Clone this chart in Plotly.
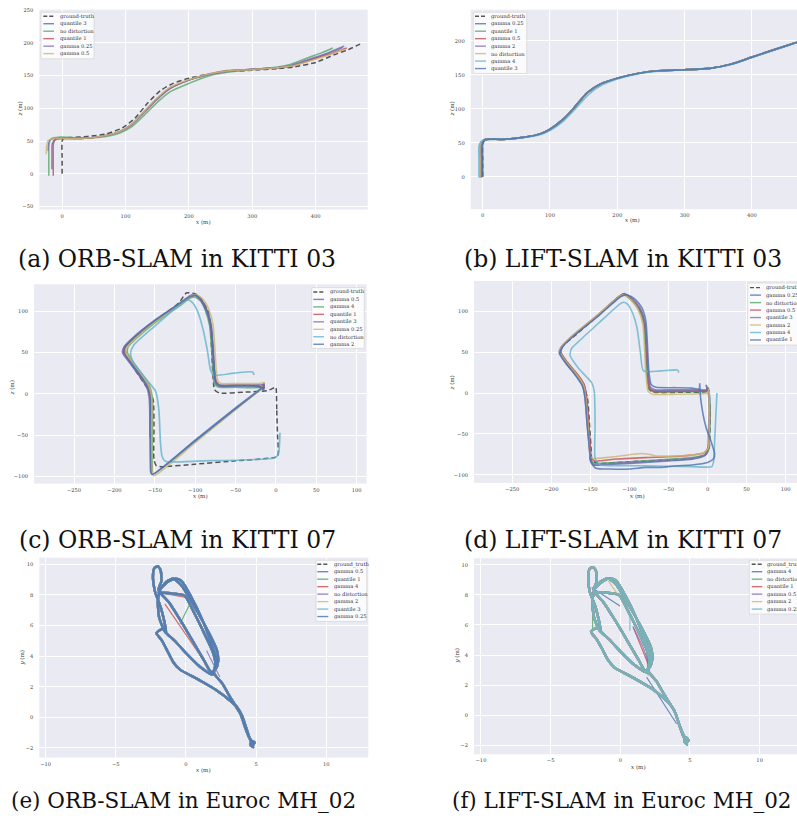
import plotly.graph_objects as go

W, H = 797, 821
BG = "#EAEAF2"
DEEP = ["#4C72B0", "#55A868", "#C44E52", "#8172B2", "#CCB974", "#64B5CD"]
GT_COLOR = "rgba(55,55,55,0.85)"
SERIF = "DejaVu Serif"

# ---------------- (a) ORB-SLAM, KITTI 03  (x, z) ----------------
A_GT = [(0, 0), (0, 25), (0, 50), (3, 54.5), (15, 55.5), (40, 57), (70, 61), (95, 70), (115, 85),
        (135, 108), (155, 127), (175, 138), (200, 146), (230, 152), (260, 156), (300, 158),
        (340, 160.5), (365, 163), (400, 170), (430, 182), (450, 189), (470, 198)]
A_QUANTILE3 = [(-16, 7), (-16, 30), (-15.5, 46), (-11, 53), (0, 54), (30, 54), (60, 57), (90, 64),
               (110, 76), (130, 96), (150, 115), (170, 131), (200, 143), (230, 151), (260, 157),
               (300, 159.5), (340, 162), (360, 165), (390, 174), (420, 184), (443, 193)]
A_NODIST = [(-21, -3), (-21, 25), (-20.5, 47), (-16, 54.5), (-5, 56), (30, 55), (60, 56), (90, 62),
            (110, 72), (130, 90), (150, 109), (170, 125), (200, 138), (230, 149), (260, 155),
            (300, 159), (340, 163), (360, 167), (390, 178), (410, 185), (427, 192)]
A_QUANTILE1 = [(-14, -3), (-14, 25), (-13.5, 47), (-9, 53), (0, 54), (30, 54), (60, 57), (90, 64),
               (110, 75), (130, 94), (150, 114), (170, 130), (200, 143), (230, 152), (260, 157.5),
               (300, 159.5), (340, 162), (360, 164), (390, 173), (420, 182), (449, 192)]
A_GAMMA025 = [(-22, 35), (-21.5, 45), (-19, 52), (-12, 54), (0, 54.5), (30, 54), (60, 57), (90, 64),
              (110, 75), (130, 95), (150, 114), (170, 130), (200, 143), (230, 151), (260, 156.5),
              (300, 159.5), (340, 162), (360, 165), (390, 175), (420, 185), (445, 195)]
A_GAMMA05 = [(-25, 30), (-24.5, 42), (-22, 51), (-14, 54), (0, 54), (30, 54), (60, 57), (90, 64),
             (110, 76), (130, 96), (150, 116), (170, 132), (200, 144), (230, 152), (260, 157),
             (300, 159), (340, 162), (360, 164), (390, 172), (420, 181), (446, 190)]

# ---------------- (b) LIFT-SLAM, KITTI 03 ----------------
B_GT = [(0, 0), (0, 25), (0, 48), (3, 54), (10, 55.5), (30, 55), (60, 58), (85, 63), (100, 70),
        (120, 85), (135, 100), (155, 123), (175, 136), (200, 145), (230, 152), (260, 156),
        (300, 157.5), (340, 160), (370, 166), (400, 176), (430, 186), (467, 198), (490, 206)]
B_COURSE = [(10, 55.5), (30, 55), (60, 58), (85, 63), (100, 70), (120, 85), (135, 100.5),
            (155, 123.5), (175, 136.5), (200, 145), (230, 152), (260, 156), (300, 157.5),
            (340, 160), (370, 166), (400, 176), (430, 186), (467, 198), (490, 206)]
B_START_GAMMA025 = [(-1, 0), (-1, 25), (-1, 48), (2, 54)]
B_START_QUANTILE1 = [(-1.5, -1), (-1.5, 25), (-1.5, 48), (2, 54.5)]
B_START_GAMMA05 = [(-3, -1), (-3, 25), (-3, 47), (1, 54)]
B_START_GAMMA2 = [(-2, 0), (-2, 25), (-2, 48), (2, 54)]
B_START_NODIST = [(-4, -1), (-4, 25), (-4, 46), (0, 53.5)]
B_START_QUANTILE3 = [(0, 0), (0, 25), (0, 48), (3, 54.5)]
B_GAMMA4 = [(-5.5, -1), (-5.5, 25), (-5.5, 45), (-2, 52), (5, 54.5), (30, 55), (60, 57.5), (85, 62),
            (100, 68), (120, 82), (137, 99), (157, 121), (177, 135), (200, 144), (230, 151.5),
            (260, 155.5), (300, 157.5), (340, 160), (370, 165.5), (400, 175.5), (430, 185.5),
            (467, 197.5), (490, 205)]

# ---------------- (c) ORB-SLAM, KITTI 07 ----------------
C_GT = [(0, 8), (1, -20), (2, -50), (3, -70), (2, -76), (-5, -77.5), (-50, -81), (-100, -85),
        (-140, -88), (-148, -87), (-151, -80), (-151, -40), (-152, -7), (-158, 5), (-175, 30),
        (-188, 55), (-184, 60), (-150, 88), (-120, 110), (-111, 122), (-100, 121), (-92, 114),
        (-84, 100), (-81, 80), (-79, 40), (-76, 5), (-70, 1), (-40, 2), (-10, 4), (-1, 8), (0, 8)]
C_GAMMA05 = [(-15, 13), (-15, 6), (-22, 9.5), (-50, 10), (-70, 10), (-74, 14), (-76, 30), (-78, 60),
             (-80, 82), (-85, 100), (-92, 113), (-99, 119), (-105, 118), (-120, 108), (-150, 88),
             (-175, 68), (-186, 57), (-188, 50), (-181, 40), (-166, 20), (-158, 8), (-155, -5),
             (-155, -40), (-155, -80), (-154, -95), (-152, -97), (-100, -56), (-50, -17), (-15, 9)]
C_GAMMA4 = [(-16, 12), (-20, 8), (-50, 8), (-70, 8), (-76, 12), (-78, 30), (-80, 60), (-82, 82),
            (-87, 100), (-93, 112), (-100, 117), (-106, 116), (-120, 106), (-150, 86), (-173, 67),
            (-183, 57), (-184, 50), (-178, 40), (-163, 20), (-156, 8), (-153, -5), (-153, -40),
            (-153.5, -80), (-153, -95)]
C_QUANTILE1 = [(-15, 12), (-15, 7), (-22, 10), (-50, 10.5), (-70, 10.5), (-74, 15), (-76.5, 30),
               (-78.5, 60), (-80.5, 82), (-85.5, 100), (-92, 113), (-99, 119.5), (-105, 118.5),
               (-120, 108), (-150, 88), (-175, 68), (-186, 57), (-187.5, 50), (-180, 40),
               (-165, 20), (-157.5, 8), (-154.5, -5), (-154.5, -40), (-154.5, -80), (-154, -95)]
C_QUANTILE3 = [(-16, 11), (-22, 11), (-50, 11), (-70, 11), (-75, 15), (-77, 30), (-79, 60),
               (-81, 82), (-86, 100), (-93, 113), (-100, 120), (-106, 119), (-120, 109),
               (-150, 89), (-176, 69), (-188, 57), (-190, 50), (-183, 40), (-168, 20), (-160, 8),
               (-157, -5), (-156, -30), (-156, -52)]
C_GAMMA025 = [(-14, 14), (-20, 12.5), (-50, 12.5), (-68, 12.5), (-72, 16), (-74, 30), (-76, 60),
              (-78, 84), (-83, 102), (-90, 114), (-98, 120), (-104, 119), (-120, 107), (-150, 87),
              (-174, 67), (-185, 56), (-186, 50), (-179, 40), (-164, 20), (-157, 8), (-154, -5),
              (-154, -40), (-154, -80), (-153, -96), (-151, -99), (-100, -59), (-50, -19),
              (-17, 7)]
C_NODIST = [(-27, 23), (-29, 26.5), (-52, 25), (-77, 22.5), (-81, 29), (-85, 53), (-91, 81),
            (-97.5, 101), (-104, 111), (-110, 114), (-118, 109), (-150, 82), (-176, 59),
            (-180, 49), (-176, 37), (-160, 17), (-149, 3), (-145, -19), (-143, -59), (-141, -75.5),
            (-137, -81.5), (-93, -81), (-2.5, -77.5), (2.9, -73.5), (4.5, -59), (5, -47)]
C_GAMMA2 = [(-15.5, 12), (-15.5, 5), (-22, 9), (-50, 9.5), (-70, 9.5), (-74.5, 13), (-76.5, 30),
            (-78.5, 60), (-80.5, 82), (-85.5, 100), (-92.5, 113), (-99.5, 119), (-105.5, 118),
            (-121, 108), (-151, 88), (-176, 68), (-187, 57), (-189, 50), (-182, 40), (-167, 20),
            (-159, 8), (-156, -5), (-156, -40), (-155.5, -80), (-155, -95), (-153, -97.5),
            (-100, -57), (-50, -18), (-15.5, 8)]

# ---------------- (d) LIFT-SLAM, KITTI 07 ----------------
D_GT = [(0, 8), (-1, 2), (-30, 1), (-70, 1), (-75, 5), (-78, 40), (-80, 80), (-84, 97), (-95, 112),
        (-108, 121), (-140, 95), (-170, 70), (-186, 57), (-189, 50), (-175, 30), (-160, 12),
        (-154, -5), (-151, -40), (-149, -70), (-148, -82), (-141, -86), (-100, -84), (-50, -82),
        (-20, -80), (-3, -76), (2, -68), (3, -30), (2, 0), (0, 8)]
D_GAMMA025 = [(-2, 10), (-1, 4), (-10, 3), (-40, 3), (-68, 3), (-74, 6), (-77, 25), (-79, 60),
              (-81, 85), (-87, 102), (-95, 112), (-102, 118), (-106, 121), (-112, 119), (-140, 95),
              (-170, 72), (-185, 58), (-188, 50), (-180, 38), (-166, 22), (-158, 10), (-155, -5),
              (-152, -40), (-150, -70), (-149, -82), (-145, -88), (-120, -87), (-80, -85),
              (-50, -83), (-20, -81), (-4, -77), (1, -70), (2, -50), (3, -20), (2, 3)]
D_NODIST = [(1, 6), (0, 2), (-10, 1.5), (-40, 1.5), (-69, 1.5), (-75, 5), (-78, 25), (-80, 60),
            (-82, 85), (-88, 102), (-96, 112), (-103, 118), (-107, 120), (-113, 118), (-141, 94),
            (-171, 71), (-186, 57), (-188.5, 50), (-181, 38), (-167, 22), (-159, 10), (-156, -5),
            (-153, -40), (-151, -70), (-150, -81), (-146, -86), (-120, -85), (-80, -83),
            (-50, -81), (-20, -79), (-3, -75), (1.5, -68), (2.5, -50), (3, -20), (2, 2)]
D_GAMMA05 = [(0, 7), (-1, 3), (-10, 2.5), (-40, 2), (-69, 2), (-74, 5), (-76.5, 25), (-78.5, 60),
             (-80.5, 85), (-86, 102), (-94, 112), (-101, 118), (-106, 121.5), (-111, 119.5),
             (-140, 96), (-170, 72), (-185, 58), (-188, 50), (-180, 38), (-166, 22), (-158, 10),
             (-155, -5), (-152, -40), (-150, -70), (-149, -79), (-145, -83), (-120, -81),
             (-80, -79), (-50, -78), (-20, -76), (-4, -73), (1, -66), (2, -50), (2.5, -20), (1, 4)]
D_QUANTILE3 = [(-1, 9), (-1, 4), (-10, 4), (-40, 4), (-67, 4), (-73, 7), (-76, 25), (-78, 60),
               (-80, 85), (-86, 103), (-94, 113), (-101, 119), (-106, 120), (-112, 118),
               (-141, 94), (-172, 70), (-187, 57), (-190, 49), (-182, 37), (-168, 21),
               (-160, 9), (-157, -5), (-154, -40), (-151, -70), (-150, -83), (-146, -88),
               (-120, -86), (-80, -84), (-50, -82), (-20, -80), (-4, -76), (0, -70), (1, -50),
               (2, -20), (1, 5)]
D_GAMMA2 = [(2, 5), (0, 0), (-10, -1), (-40, -1.5), (-70, -1.5), (-76, 2), (-79, 25), (-81, 60),
            (-83, 85), (-89, 102), (-96, 112), (-103, 118), (-107, 120.5), (-113, 118.5),
            (-141, 95), (-171, 72), (-186, 58), (-189, 50), (-181, 38), (-167, 22), (-159, 10),
            (-156, -5), (-153, -40), (-151, -70), (-150, -78), (-146, -80), (-120, -78),
            (-95, -75), (-85, -74), (-75, -75), (-65, -77), (-40, -77), (-20, -76), (-5, -73),
            (1, -67), (2, -50), (2, -20), (2, 2)]
D_GAMMA4 = [(-37, 25), (-38, 28), (-60, 27), (-82, 27), (-86, 50), (-90.6, 81), (-97, 100),
            (-103, 109), (-107.7, 111), (-112, 109), (-140, 85), (-165, 63), (-174, 54.5),
            (-176, 46), (-165, 30), (-148, 12), (-145, 1.6), (-144, -40), (-144, -80),
            (-140, -86), (-137.6, -88), (-80, -89), (-20, -90), (5.6, -90), (7.7, -84),
            (9, -60), (10.5, -30), (12, 0)]
D_QUANTILE1 = [(-10, 12), (-11, 5), (-20, 6), (-40, 6.5), (-66, 7), (-72, 10), (-75, 25),
               (-77, 60), (-79, 88), (-84, 104), (-92, 114), (-100, 119), (-105, 120),
               (-111, 118), (-140, 94), (-171, 70), (-186, 56), (-189, 48), (-181, 36),
               (-168, 20), (-160, 8), (-157, -5), (-154, -40), (-151, -70), (-149, -85),
               (-143, -92), (-125, -93), (-100, -93), (-80, -91), (-60, -91), (-40, -89),
               (-20, -88), (0, -85), (8, -80), (9, -74), (4, -58), (-2, -42), (-6, -25),
               (-9, -5), (-10, 10)]

# ---------------- (e) ORB-SLAM, Euroc MH_02  (x, y) ----------------
E_PATH = [(4.75, -1.85), (4.9, -1.65), (4.7, -1.55), (4.6, -1.8), (4.8, -1.95), (4.55, -1.4),
          (4.3, -0.7), (4.0, 0.1), (3.65, 0.65), (3.2, 1.05), (2.2, 1.75), (1.1, 2.35),
          (0.2, 2.8), (-0.4, 3.1), (-0.9, 3.6), (-1.3, 4.3), (-1.7, 5.0), (-2.1, 5.5),
          (-1.6, 5.8), (-1.4, 5.55), (-1.55, 6.3), (-1.8, 7.2), (-2.2, 8.2), (-2.35, 9.1),
          (-2.25, 9.75), (-2.0, 9.87), (-1.8, 9.6), (-1.75, 8.9), (-1.95, 8.3), (-1.2, 7.5),
          (-0.3, 6.2), (0.6, 4.8), (1.3, 3.7), (1.8, 2.95), (2.15, 3.2), (2.3, 3.7), (2.2, 4.4),
          (1.7, 5.4), (1.0, 6.6), (0.3, 7.7), (-0.3, 8.6), (-0.9, 9.05), (-1.4, 8.85),
          (-1.9, 8.2), (-1.0, 8.1), (-0.1, 7.95), (0.6, 6.8), (1.3, 5.5), (1.9, 4.3), (2.1, 3.5),
          (1.9, 2.8), (1.0, 3.3), (0.0, 4.2), (-0.8, 5.0), (-1.5, 5.6), (-1.9, 6.5),
          (-2.0, 7.6), (-1.8, 8.4), (-1.2, 8.9), (-0.7, 9.05), (-0.3, 8.9), (0.3, 8.0),
          (1.2, 6.3), (1.9, 4.6), (2.2, 3.7), (2.0, 2.9), (2.6, 2.2), (3.1, 1.4), (3.5, 0.8),
          (3.9, 0.2), (4.2, -0.6), (4.5, -1.3), (4.8, -1.7)]
E_JUMP_QUANTILE1 = [(-0.43, 6.1), (0.29, 7.41)]
E_JUMP_GAMMA4 = [(-1.5, 7.41), (1.83, 2.96)]
E_JUMP_GAMMA4_TOP = [(-2.1, 8.17), (-0.07, 7.85)]
E_JUMP_NODIST = [(1.47, 4.37), (2.42, 2.63)]

# ---------------- (f) LIFT-SLAM, Euroc MH_02 ----------------
F_PATH = [(4.7, -1.85), (4.9, -1.7), (4.75, -1.5), (4.6, -1.75), (4.8, -1.95), (4.5, -1.35),
          (4.25, -0.7), (3.95, 0.15), (3.6, 0.7), (3.15, 1.1), (2.2, 1.8), (1.1, 2.4),
          (0.2, 2.85), (-0.4, 3.15), (-0.9, 3.7), (-1.3, 4.4), (-1.7, 5.05), (-2.1, 5.55),
          (-1.6, 5.85), (-1.4, 5.6), (-1.55, 6.35), (-1.8, 7.25), (-2.2, 8.25), (-2.3, 9.1),
          (-2.2, 9.75), (-1.95, 9.85), (-1.75, 9.6), (-1.7, 8.9), (-1.9, 8.3), (-1.2, 7.5),
          (-0.3, 6.2), (0.6, 4.8), (1.3, 3.7), (1.8, 2.95), (2.15, 3.25), (2.3, 3.8),
          (2.2, 4.5), (1.7, 5.5), (1.0, 6.7), (0.3, 7.8), (-0.3, 8.7), (-0.9, 9.1),
          (-1.4, 8.9), (-1.9, 8.25), (-1.0, 8.15), (-0.1, 8.0), (0.6, 6.85), (1.3, 5.55),
          (1.9, 4.35), (2.1, 3.55), (1.9, 2.85), (1.0, 3.35), (0.0, 4.25), (-0.8, 5.05),
          (-1.5, 5.65), (-1.9, 6.55), (-2.0, 7.65), (-1.8, 8.45), (-1.2, 8.95), (-0.7, 9.1),
          (-0.3, 8.95), (0.3, 8.05), (1.2, 6.35), (1.9, 4.65), (2.2, 3.75), (2.0, 2.95),
          (2.6, 2.25), (3.1, 1.45), (3.5, 0.85), (3.9, 0.25), (4.2, -0.55), (4.5, -1.25),
          (4.75, -1.7)]
F_JUMP_GAMMA4 = [(1.89, 2.52), (4.04, -0.57)]
F_JUMP_GAMMA4_TOP = [(-2.06, 8.49), (-0.02, 7.27)]
F_JUMP_NODIST = [(-1.99, 6.94), (-1.99, 5.61)]
F_JUMP_NODIST_B = [(1.89, 4.29), (2.0, 2.63)]
F_JUMP_QUANTILE1 = [(0.93, 5.83), (2.0, 3.4)]
F_JUMP_GAMMA05 = [(0.9, 5.9), (1.6, 4.6), (2.05, 3.45)]
F_JUMP_GAMMA2 = [(-0.86, 8.93), (-0.02, 7.82)]
F_JUMP_GAMMA025 = [(0.69, 6.83), (0.69, 5.61)]

# ---------------- legend labels ----------------
A_NAMES = ["ground-truth", "quantile 3", "no distortion", "quantile 1", "gamma 0.25", "gamma 0.5"]
B_NAMES = ["ground-truth", "gamma 0.25", "quantile 1", "gamma 0.5", "gamma 2", "no distortion",
           "gamma 4", "quantile 3"]
C_NAMES = ["ground-truth", "gamma 0.5", "gamma 4", "quantile 1", "quantile 3", "gamma 0.25",
           "no distortion", "gamma 2"]
D_NAMES = ["ground-truth", "gamma 0.25", "no distortion", "gamma 0.5", "quantile 3", "gamma 2",
           "gamma 4", "quantile 1"]
E_NAMES = ["ground_truth", "gamma 0.5", "quantile 1", "gamma 4", "no distortion", "gamma 2",
           "quantile 3", "gamma 0.25"]
F_NAMES = ["ground_truth", "gamma 4", "no distortion", "quantile 1", "gamma 0.5", "gamma 2",
           "gamma 0.25"]

CAPTIONS = ["(a) ORB-SLAM in KITTI 03", "(b) LIFT-SLAM in KITTI 03",
            "(c) ORB-SLAM in KITTI 07", "(d) LIFT-SLAM in KITTI 07",
            "(e) ORB-SLAM in Euroc MH_02", "(f) LIFT-SLAM in Euroc MH_02"]

# ---------------- layout geometry (pixels) ----------------
PANELS = [
    dict(box=(39.3, 367.7, 6.7, 207.3), xr=(-36, 482), yr=(-54.5, 250.5),
         xt=[0, 100, 200, 300, 400], yt=[-50, 0, 50, 100, 150, 200, 250], ylab="z",
         xlab_xy=(203.5, 220), ylab_xy=(20, 107), cap_xy=(177, 257), cap_size=23.5,
         leg=dict(lx=(43.3, 54), tx=57.7, y0=13.3, box=(41, 94, 9.3, 56)),
         names=A_NAMES, gt=A_GT, width=1.5,
         series=[[A_QUANTILE3], [A_NODIST], [A_QUANTILE1], [A_GAMMA025], [A_GAMMA05]]),
    dict(box=(470.7, 797, 6.7, 207), xr=(-17.8, 467), yr=(-47.8, 245.9),
         xt=[0, 100, 200, 300, 400], yt=[0, 50, 100, 150, 200], ylab="z",
         xlab_xy=(632, 218), ylab_xy=(452, 107), cap_xy=(623, 257), cap_size=23.5,
         leg=dict(lx=(475, 486), tx=489.3, y0=13.3, box=(473.3, 526.7, 9.3, 70.7)),
         names=B_NAMES, gt=B_GT, width=1.7,
         series=[[B_START_GAMMA025 + B_COURSE], [B_START_QUANTILE1 + B_COURSE],
                 [B_START_GAMMA05 + B_COURSE], [B_START_GAMMA2 + B_COURSE],
                 [B_START_NODIST + B_COURSE], [B_GAMMA4], [B_START_QUANTILE3 + B_COURSE]]),
    dict(box=(34, 366.7, 282.3, 482.3), xr=(-299.6, 112.4), yr=(-108.4, 132.5),
         xt=[-250, -200, -150, -100, -50, 0, 50, 100], yt=[-100, -50, 0, 50, 100], ylab="z",
         xlab_xy=(200.5, 495), ylab_xy=(12, 387), cap_xy=(177, 539), cap_size=23.5,
         leg=dict(lx=(313.3, 324), tx=327.7, y0=290, box=(311.7, 364.3, 285.7, 346.7)),
         names=C_NAMES, gt=C_GT, width=1.7,
         series=[[C_GAMMA05], [C_GAMMA4], [C_QUANTILE1], [C_QUANTILE3], [C_GAMMA025],
                 [C_NODIST], [C_GAMMA2]]),
    dict(box=(474, 797, 279, 481.7), xr=(-299, 114.5), yr=(-110, 137),
         xt=[-250, -200, -150, -100, -50, 0, 50, 100], yt=[-100, -50, 0, 50, 100], ylab="z",
         xlab_xy=(637, 495), ylab_xy=(452, 382), cap_xy=(623, 539), cap_size=23.5,
         leg=dict(lx=(750, 761), tx=764.3, y0=285.7, box=(747.7, 802, 281, 343.3)),
         names=D_NAMES, gt=D_GT, width=1.6,
         series=[[D_GAMMA025], [D_NODIST], [D_GAMMA05], [D_QUANTILE3], [D_GAMMA2], [D_GAMMA4],
                 [D_QUANTILE1]]),
    dict(box=(39.3, 368.3, 556.7, 757.3), xr=(-10.45, 13.0), yr=(-2.63, 10.43),
         xt=[-10, -5, 0, 5, 10], yt=[-2, 0, 2, 4, 6, 8, 10], ylab="y",
         xlab_xy=(203, 770), ylab_xy=(23, 657), cap_xy=(183, 800), cap_size=21.5,
         leg=dict(lx=(317.3, 328.3), tx=331.7, y0=563.3, box=(316, 366.7, 559.3, 620.7)),
         names=E_NAMES, gt=E_PATH, width=2.4,
         series=[[E_PATH], [E_PATH, E_JUMP_QUANTILE1], [E_PATH, E_JUMP_GAMMA4, E_JUMP_GAMMA4_TOP],
                 [E_PATH, E_JUMP_NODIST], [E_PATH], [E_PATH], [E_PATH]]),
    dict(box=(474, 797, 557.3, 754), xr=(-10.5, 12.68), yr=(-2.6, 10.44),
         xt=[-10, -5, 0, 5, 10], yt=[-2, 0, 2, 4, 6, 8, 10], ylab="y",
         xlab_xy=(638, 767), ylab_xy=(458, 655), cap_xy=(622, 800), cap_size=21.5,
         leg=dict(lx=(751.7, 762.3), tx=765, y0=563.3, box=(749.3, 802, 559.3, 613.3)),
         names=F_NAMES, gt=F_PATH, width=2.4,
         series=[[F_PATH, F_JUMP_GAMMA4, F_JUMP_GAMMA4_TOP], [F_PATH, F_JUMP_NODIST, F_JUMP_NODIST_B],
                 [F_PATH, F_JUMP_QUANTILE1], [F_PATH, F_JUMP_GAMMA05], [F_PATH, F_JUMP_GAMMA2],
                 [F_PATH, F_JUMP_GAMMA025]]),
]

LEG_DY = 7.5
TICK_FONT = dict(family=SERIF, size=5.2, color="#3a3a3a")


def px(x):
    return x / W


def py(y):
    return 1 - y / H


fig = go.Figure()
shapes, annotations = [], []
layout = {}

for i, p in enumerate(PANELS):
    n = "" if i == 0 else str(i + 1)
    xa, ya = "x" + n, "y" + n
    l, r, t, b = p["box"]
    layout["xaxis" + n] = dict(
        domain=[px(l), min(px(r), 1.0)], range=list(p["xr"]), anchor=ya, autorange=False,
        tickvals=p["xt"], showgrid=True, gridcolor="white", gridwidth=1, zeroline=False,
        showline=False, ticks="", tickfont=TICK_FONT, ticklabelstandoff=2)
    layout["yaxis" + n] = dict(
        domain=[py(b), py(t)], range=list(p["yr"]), anchor=xa, autorange=False,
        tickvals=p["yt"], showgrid=True, gridcolor="white", gridwidth=1, zeroline=False,
        showline=False, ticks="", tickfont=TICK_FONT, ticklabelstandoff=5)

    # ground truth
    gx = [q[0] for q in p["gt"]]
    gy = [q[1] for q in p["gt"]]
    fig.add_trace(go.Scatter(x=gx, y=gy, mode="lines", xaxis=xa, yaxis=ya, showlegend=False,
                             line=dict(color=GT_COLOR, width=1.5, dash="5px,3px",
                                       shape="spline", smoothing=0.5), hoverinfo="skip"))
    # estimated trajectories
    for k, parts in enumerate(p["series"]):
        col = DEEP[k % 6]
        for j, seg in enumerate(parts):
            fig.add_trace(go.Scatter(
                x=[q[0] for q in seg], y=[q[1] for q in seg], mode="lines", xaxis=xa, yaxis=ya,
                showlegend=False, opacity=0.8, hoverinfo="skip",
                line=dict(color=col, width=p["width"] if j == 0 else 1.2,
                          shape="spline" if j == 0 else "linear", smoothing=0.6)))

    # legend box (drawn manually)
    lg = p["leg"]
    bx0, bx1, by0, by1 = lg["box"]
    shapes.append(dict(type="rect", xref="paper", yref="paper", x0=px(bx0), x1=px(bx1),
                       y0=py(by1), y1=py(by0), fillcolor="rgba(255,255,255,0.8)",
                       line=dict(color="#d4d4d4", width=0.7), layer="above"))
    for k, name in enumerate(p["names"]):
        yy = lg["y0"] + k * LEG_DY
        if k == 0:
            lc, dash, op = GT_COLOR, "4px,2px", 1
        else:
            lc, dash, op = DEEP[(k - 1) % 6], "solid", 0.8
        shapes.append(dict(type="line", xref="paper", yref="paper", x0=px(lg["lx"][0]),
                           x1=px(lg["lx"][1]), y0=py(yy), y1=py(yy), opacity=op,
                           line=dict(color=lc, width=1.4, dash=dash), layer="above"))
        annotations.append(dict(text=name, xref="paper", yref="paper", x=px(lg["tx"]), y=py(yy),
                                xanchor="left", yanchor="middle", showarrow=False,
                                font=dict(family=SERIF, size=5.2, color="#333")))

    # axis titles
    annotations.append(dict(text="<i>x</i> (m)", xref="paper", yref="paper",
                            x=px(p["xlab_xy"][0]), y=py(p["xlab_xy"][1]), xanchor="center",
                            yanchor="middle", showarrow=False,
                            font=dict(family=SERIF, size=5.6, color="#333")))
    annotations.append(dict(text="<i>%s</i> (m)" % p["ylab"], xref="paper", yref="paper",
                            x=px(p["ylab_xy"][0]), y=py(p["ylab_xy"][1]), xanchor="center",
                            yanchor="middle", showarrow=False, textangle=-90,
                            font=dict(family=SERIF, size=5.6, color="#333")))
    # caption
    annotations.append(dict(text=CAPTIONS[i], xref="paper", yref="paper",
                            x=px(p["cap_xy"][0]), y=py(p["cap_xy"][1]), xanchor="center",
                            yanchor="middle", showarrow=False,
                            font=dict(family=SERIF, size=p["cap_size"], color="#111")))

fig.update_layout(width=W, height=H, margin=dict(l=0, r=0, t=0, b=0), autosize=False,
                  paper_bgcolor="white", plot_bgcolor=BG, showlegend=False,
                  shapes=shapes, annotations=annotations, **layout)
fig.write_html("out.html", config={"displayModeBar": False},
               post_script="document.body.style.margin='0px';document.body.style.padding='0px';")
